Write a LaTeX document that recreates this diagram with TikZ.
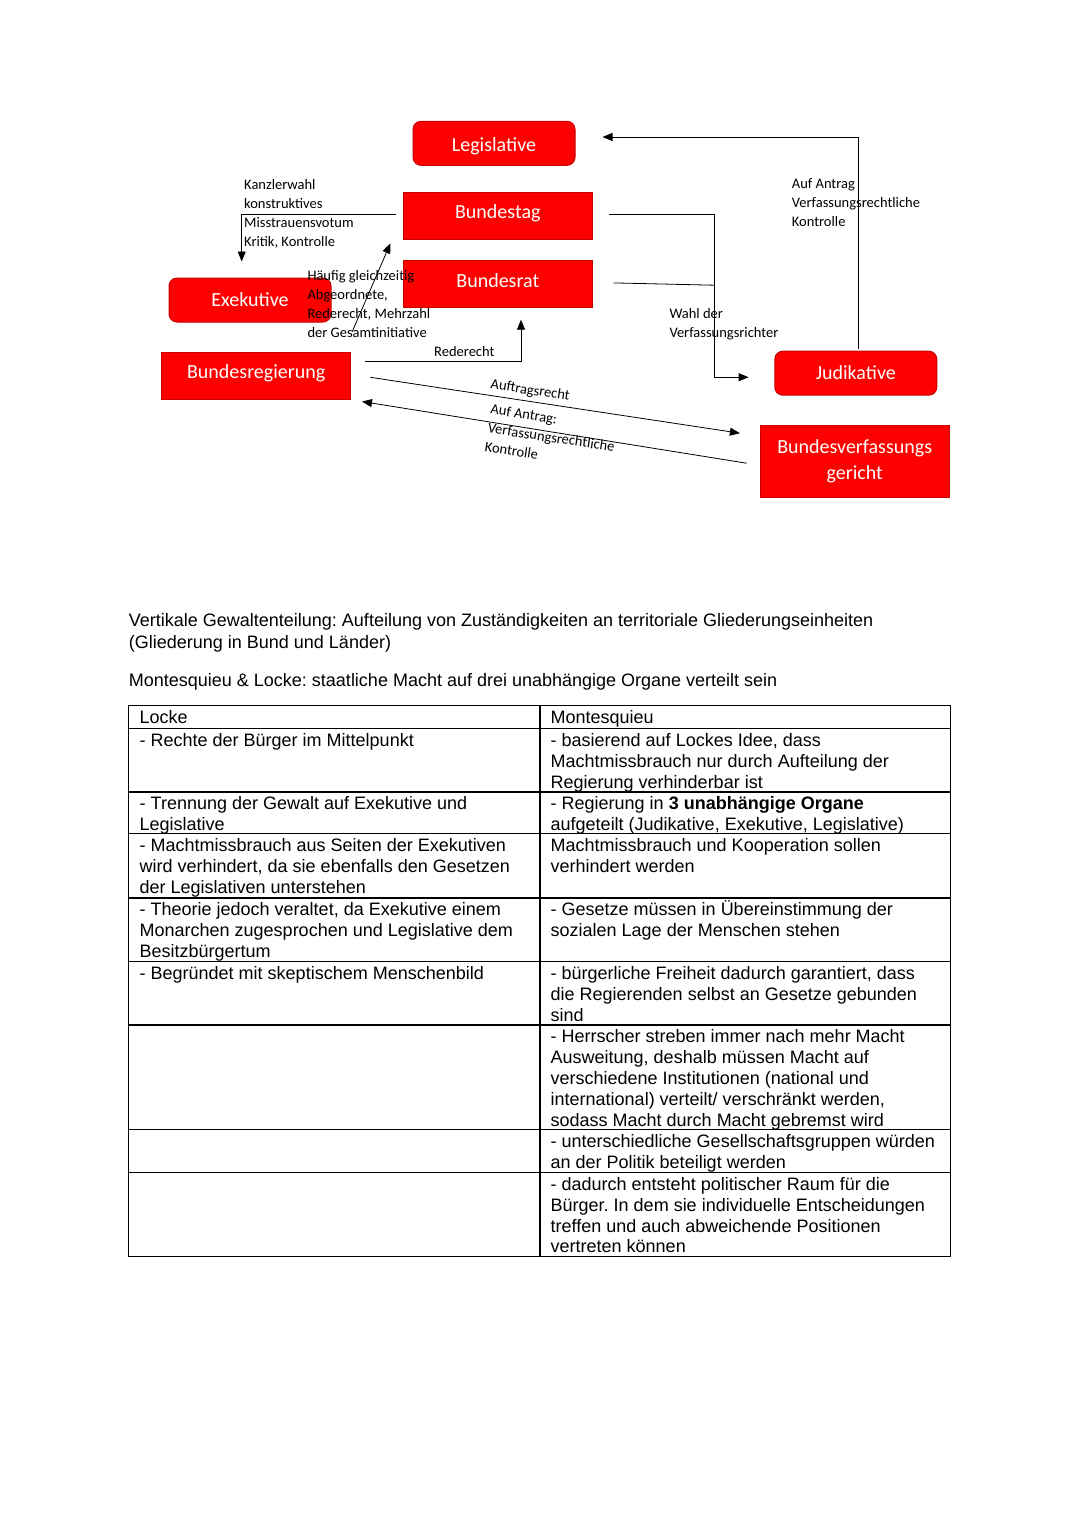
\documentclass[tikz,border=0pt]{standalone}
\usepackage{fontspec}
\setmainfont{Liberation Sans}
\newfontfamily\carlito{Carlito}
\usetikzlibrary{arrows.meta,calc,positioning}
\definecolor{organred}{HTML}{FF0000}
\definecolor{organedge}{HTML}{C80000}
\newcommand{\boxfont}{\carlito\fontsize{20}{26}\selectfont}
\newcommand{\notefont}{\carlito\fontsize{14.5}{19}\selectfont}
\newcommand{\tabfont}{\fontsize{18}{20.9}\selectfont\frenchspacing}
\newcommand{\notestrut}{\rule{0pt}{11.5pt}}
\newcommand{\tabstrut}{\rule{0pt}{17pt}}

\begin{document}
\begin{tikzpicture}[x=1pt, y=-1pt,
squarednode/.style={rectangle, draw=organedge, fill=organred, line width=0.6pt, inner sep=0pt, minimum width=189pt, minimum height=47pt, text=white, font=\boxfont, align=center},
roundnode/.style={squarednode, rounded corners=8pt, line width=1pt, minimum width=162pt, minimum height=44pt},
note/.style={anchor=north west, inner sep=0pt, align=left, font=\notefont},
cell/.style={anchor=north west, inner sep=0pt, align=left, font=\tabfont},
conn/.style={draw=black, line width=0.8pt},
tip/.style={conn, -{Triangle[length=10pt,width=8pt]}},
rule/.style={draw=black, line width=1.3pt},
]
\path[fill=white] (0,0) rectangle (1080,1527);
\useasboundingbox (0,0) rectangle (1080,1527);

%Nodes
\node[squarednode, text height=6.3pt, text depth=0pt]    (bundestag)       at (497.8,215.3)                         {Bundestag};
\node[squarednode, text height=7.9pt, text depth=0pt]    (bundesrat)       [below=21pt of bundestag]               {Bundesrat};
\node[roundnode, text height=15.5pt, text depth=0pt]     (legislative)     [above=25.7pt of bundestag, xshift=-3.8pt] {Legislative};
\node[roundnode, text height=12.9pt, text depth=0pt]     (exekutive)       at (250,300)                             {Exekutive};
\node[squarednode, text height=6.9pt, text depth=0pt]    (bundesregierung) [below=29pt of exekutive, xshift=6.2pt]  {Bundesregierung};
\node[roundnode, text height=13.1pt, text depth=0pt]     (judikative)      at (855.8,373.2)                         {Judikative};
\node[squarednode, minimum height=72pt] (bverfg) [below=29.3pt of judikative, xshift=-1.1pt] {Bundesverfassungs\\gericht};

%Lines
\draw[tip] ($(judikative.north)+(2.5,-2)$) |- ($(legislative.east)+(27,-6.3)$);
\draw[tip] ($(bundestag.east)+(16,-1.3)$) -| ($(judikative.west)+(-60,4)$) -- ($(judikative.west)+(-25.7,4)$);
\draw[conn] ($(bundesrat.east)+(21,-1)$) -- ($(judikative.west)+(-60,-88)$);
\draw[tip] ($(bundestag.west)+(-7,-1.3)$) -| ($(exekutive.north)+(-8.3,-16)$);
\draw[tip] ($(exekutive.east)+(20.7,31.7)$) -- ($(bundestag.south west)+(-12.6,4.3)$);
\draw[tip] ($(bundesregierung.north east)+(13.6,9.7)$) -| ($(bundesrat.south)+(23.2,12)$);
\draw[tip] ($(bundesregierung.east)+(19.3,2)$) -- ($(bverfg.west)+(-20,-28.1)$);
\draw[tip] ($(bverfg.west)+(-13.3,1.9)$) -- ($(bundesregierung.south east)+(11,2.4)$);

%Labels
\node[note] (kanzlerwahl)  at (244,177.8)   {\notestrut Kanzlerwahl\\konstruktives\\Misstrauensvotum\\Kritik, Kontrolle};
\node[note] (gleichzeitig) at (307.3,269.2) {\notestrut Häufig gleichzeitig\\Abgeordnete,\\Rederecht, Mehrzahl\\der Gesamtinitiative};
\node[note] (antragnote)   at (791.7,176.3) {\notestrut Auf Antrag\\Verfassungsrechtliche\\Kontrolle};
\node[note] (wahlnote)     at (669.3,307)   {\notestrut Wahl der\\Verfassungsrichter};
\node[note] (rederecht)    at (434,344.7)   {\notestrut Rederecht};
\node[note, anchor=base west, rotate=-8.7] (auftrag) at (490,388.5) {Auftragsrecht};
\node[note, rotate=-8.7] (kontrolle) at (491.7,402.1) {\notestrut Auf Antrag:\\Verfassungsrechtliche\\Kontrolle};

%Text
\node[cell, font=\fontsize{18}{21.6}\selectfont\frenchspacing] (vertikal) at (128.7,609.7) {\tabstrut Vertikale Gewaltenteilung: Aufteilung von Zuständigkeiten an territoriale Gliederungseinheiten\\(Gliederung in Bund und Länder)};
\node[cell] (montlocke) at (128.7,669) {\tabstrut Montesquieu \& Locke: staatliche Macht auf drei unabhängige Organe verteilt sein};

%Table
\draw[rule] (128.3,705.7) rectangle (950.7,1256.7);
\draw[rule] (540,705.7) -- (540,1256.7);
\foreach \y in {728.5,792,833.5,898,961.5,1025,1129.5,1172.5}
  \draw[rule] (128.3,\y) -- (950.7,\y);

\node[cell] (locke0) at (139.5,706.2)  {\tabstrut Locke};
\node[cell] (locke1) at (139.5,729)    {\tabstrut - Rechte der Bürger im Mittelpunkt};
\node[cell] (locke2) at (139.5,792.5)  {\tabstrut - Trennung der Gewalt auf Exekutive und\\Legislative};
\node[cell] (locke3) at (139.5,834)    {\tabstrut - Machtmissbrauch aus Seiten der Exekutiven\\wird verhindert, da sie ebenfalls den Gesetzen\\der Legislativen unterstehen};
\node[cell] (locke4) at (139.5,898.5)  {\tabstrut - Theorie jedoch veraltet, da Exekutive einem\\Monarchen zugesprochen und Legislative dem\\Besitzbürgertum};
\node[cell] (locke5) at (139.5,962)    {\tabstrut - Begründet mit skeptischem Menschenbild};

\node[cell] (mont0) at (550.5,706.2)  {\tabstrut Montesquieu};
\node[cell] (mont1) at (550.5,729)    {\tabstrut - basierend auf Lockes Idee, dass\\Machtmissbrauch nur durch Aufteilung der\\Regierung verhinderbar ist};
\node[cell] (mont2) at (550.5,792.5)  {\tabstrut - Regierung in \textbf{3 unabhängige Organe}\\aufgeteilt (Judikative, Exekutive, Legislative)};
\node[cell] (mont3) at (550.5,834)    {\tabstrut Machtmissbrauch und Kooperation sollen\\verhindert werden};
\node[cell] (mont4) at (550.5,898.5)  {\tabstrut - Gesetze müssen in Übereinstimmung der\\sozialen Lage der Menschen stehen};
\node[cell] (mont5) at (550.5,962)    {\tabstrut - bürgerliche Freiheit dadurch garantiert, dass\\die Regierenden selbst an Gesetze gebunden\\sind};
\node[cell] (mont6) at (550.5,1025.5) {\tabstrut - Herrscher streben immer nach mehr Macht\\Ausweitung, deshalb müssen Macht auf\\verschiedene Institutionen (national und\\international) verteilt/ verschränkt werden,\\sodass Macht durch Macht gebremst wird};
\node[cell] (mont7) at (550.5,1130)   {\tabstrut - unterschiedliche Gesellschaftsgruppen würden\\an der Politik beteiligt werden};
\node[cell] (mont8) at (550.5,1173)   {\tabstrut - dadurch entsteht politischer Raum für die\\Bürger. In dem sie individuelle Entscheidungen\\treffen und auch abweichende Positionen\\vertreten können};
\end{tikzpicture}
\end{document}
